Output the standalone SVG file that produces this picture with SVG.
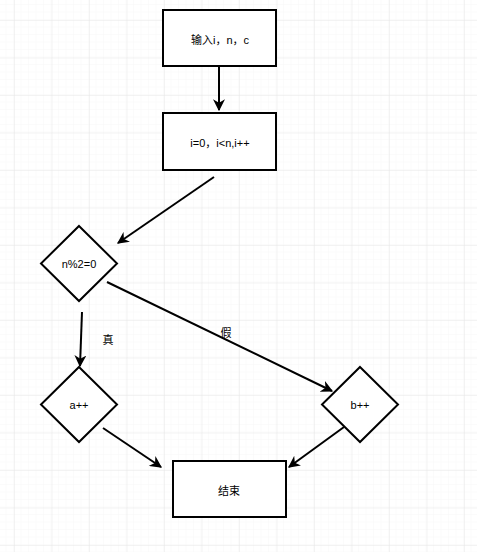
<svg xmlns="http://www.w3.org/2000/svg" width="477" height="552" viewBox="0 0 477 552">
<defs>
<pattern id="minor" x="14" y="20" width="7.5" height="7.5" patternUnits="userSpaceOnUse">
<path d="M7.5 0V7.5M0 7.5H7.5" fill="none" stroke="#f7f7f7" stroke-width="1"/>
</pattern>
<pattern id="major" x="14" y="20" width="37.5" height="37.5" patternUnits="userSpaceOnUse">
<path d="M0 0V37.5M0 0H37.5" fill="none" stroke="#e8e8e8" stroke-width="1"/>
</pattern>
<marker id="arr" viewBox="0 0 10 10" refX="9" refY="5" markerWidth="6" markerHeight="6" markerUnits="strokeWidth" orient="auto">
<path d="M0 0L10 5L0 10L3 5Z" fill="#000"/>
</marker>
<style>
.n{fill:#fff;stroke:#000;stroke-width:2}
.t{font-family:"Liberation Sans","Noto Sans CJK SC",sans-serif;font-size:11px;fill:#000;text-anchor:middle;dominant-baseline:central}
.c{fill:none;stroke:#000;stroke-width:2;marker-end:url(#arr)}
.l{fill:none;stroke:#000;stroke-width:2}
</style>
</defs>
<rect width="477" height="552" fill="#fff"/>
<rect width="477" height="552" fill="url(#minor)"/>
<rect width="477" height="552" fill="url(#major)"/>
<g id="connectors">
<path class="c" d="M219 66V110"/>
<path class="c" d="M214 177L118 243"/>
<path class="c" d="M107 282L332 391"/>
<path class="c" d="M82 312L80 366"/>
<path class="c" d="M103 428L161 467"/>
<path class="c" d="M344 427L289 467"/>
<text class="t" x="226" y="333">假</text>
<text class="t" x="108" y="340">真</text>
</g>
<g id="input">
<rect class="n" x="163" y="10" width="113" height="56"/>
<text class="t" x="220" y="40">输入i，n，c</text>
</g>
<g id="loop">
<rect class="n" x="163" y="113" width="113" height="57"/>
<text class="t" x="220" y="143">i=0，i&lt;n,i++</text>
</g>
<g id="cond">
<path class="n" d="M79 226L117 263.5L79 301L41 263.5Z"/>
<text class="t" x="79" y="264">n%2=0</text>
</g>
<g id="a">
<path class="n" d="M79 367L117 404.5L79 442L41 404.5Z"/>
<text class="t" x="79" y="405">a++</text>
</g>
<g id="b">
<path class="n" d="M360 367L398 404.5L360 442L322 404.5Z"/>
<text class="t" x="360" y="405">b++</text>
</g>
<g id="end">
<rect class="n" x="173" y="461" width="113" height="56"/>
<text class="t" x="229" y="491">结束</text>
</g>
</svg>
